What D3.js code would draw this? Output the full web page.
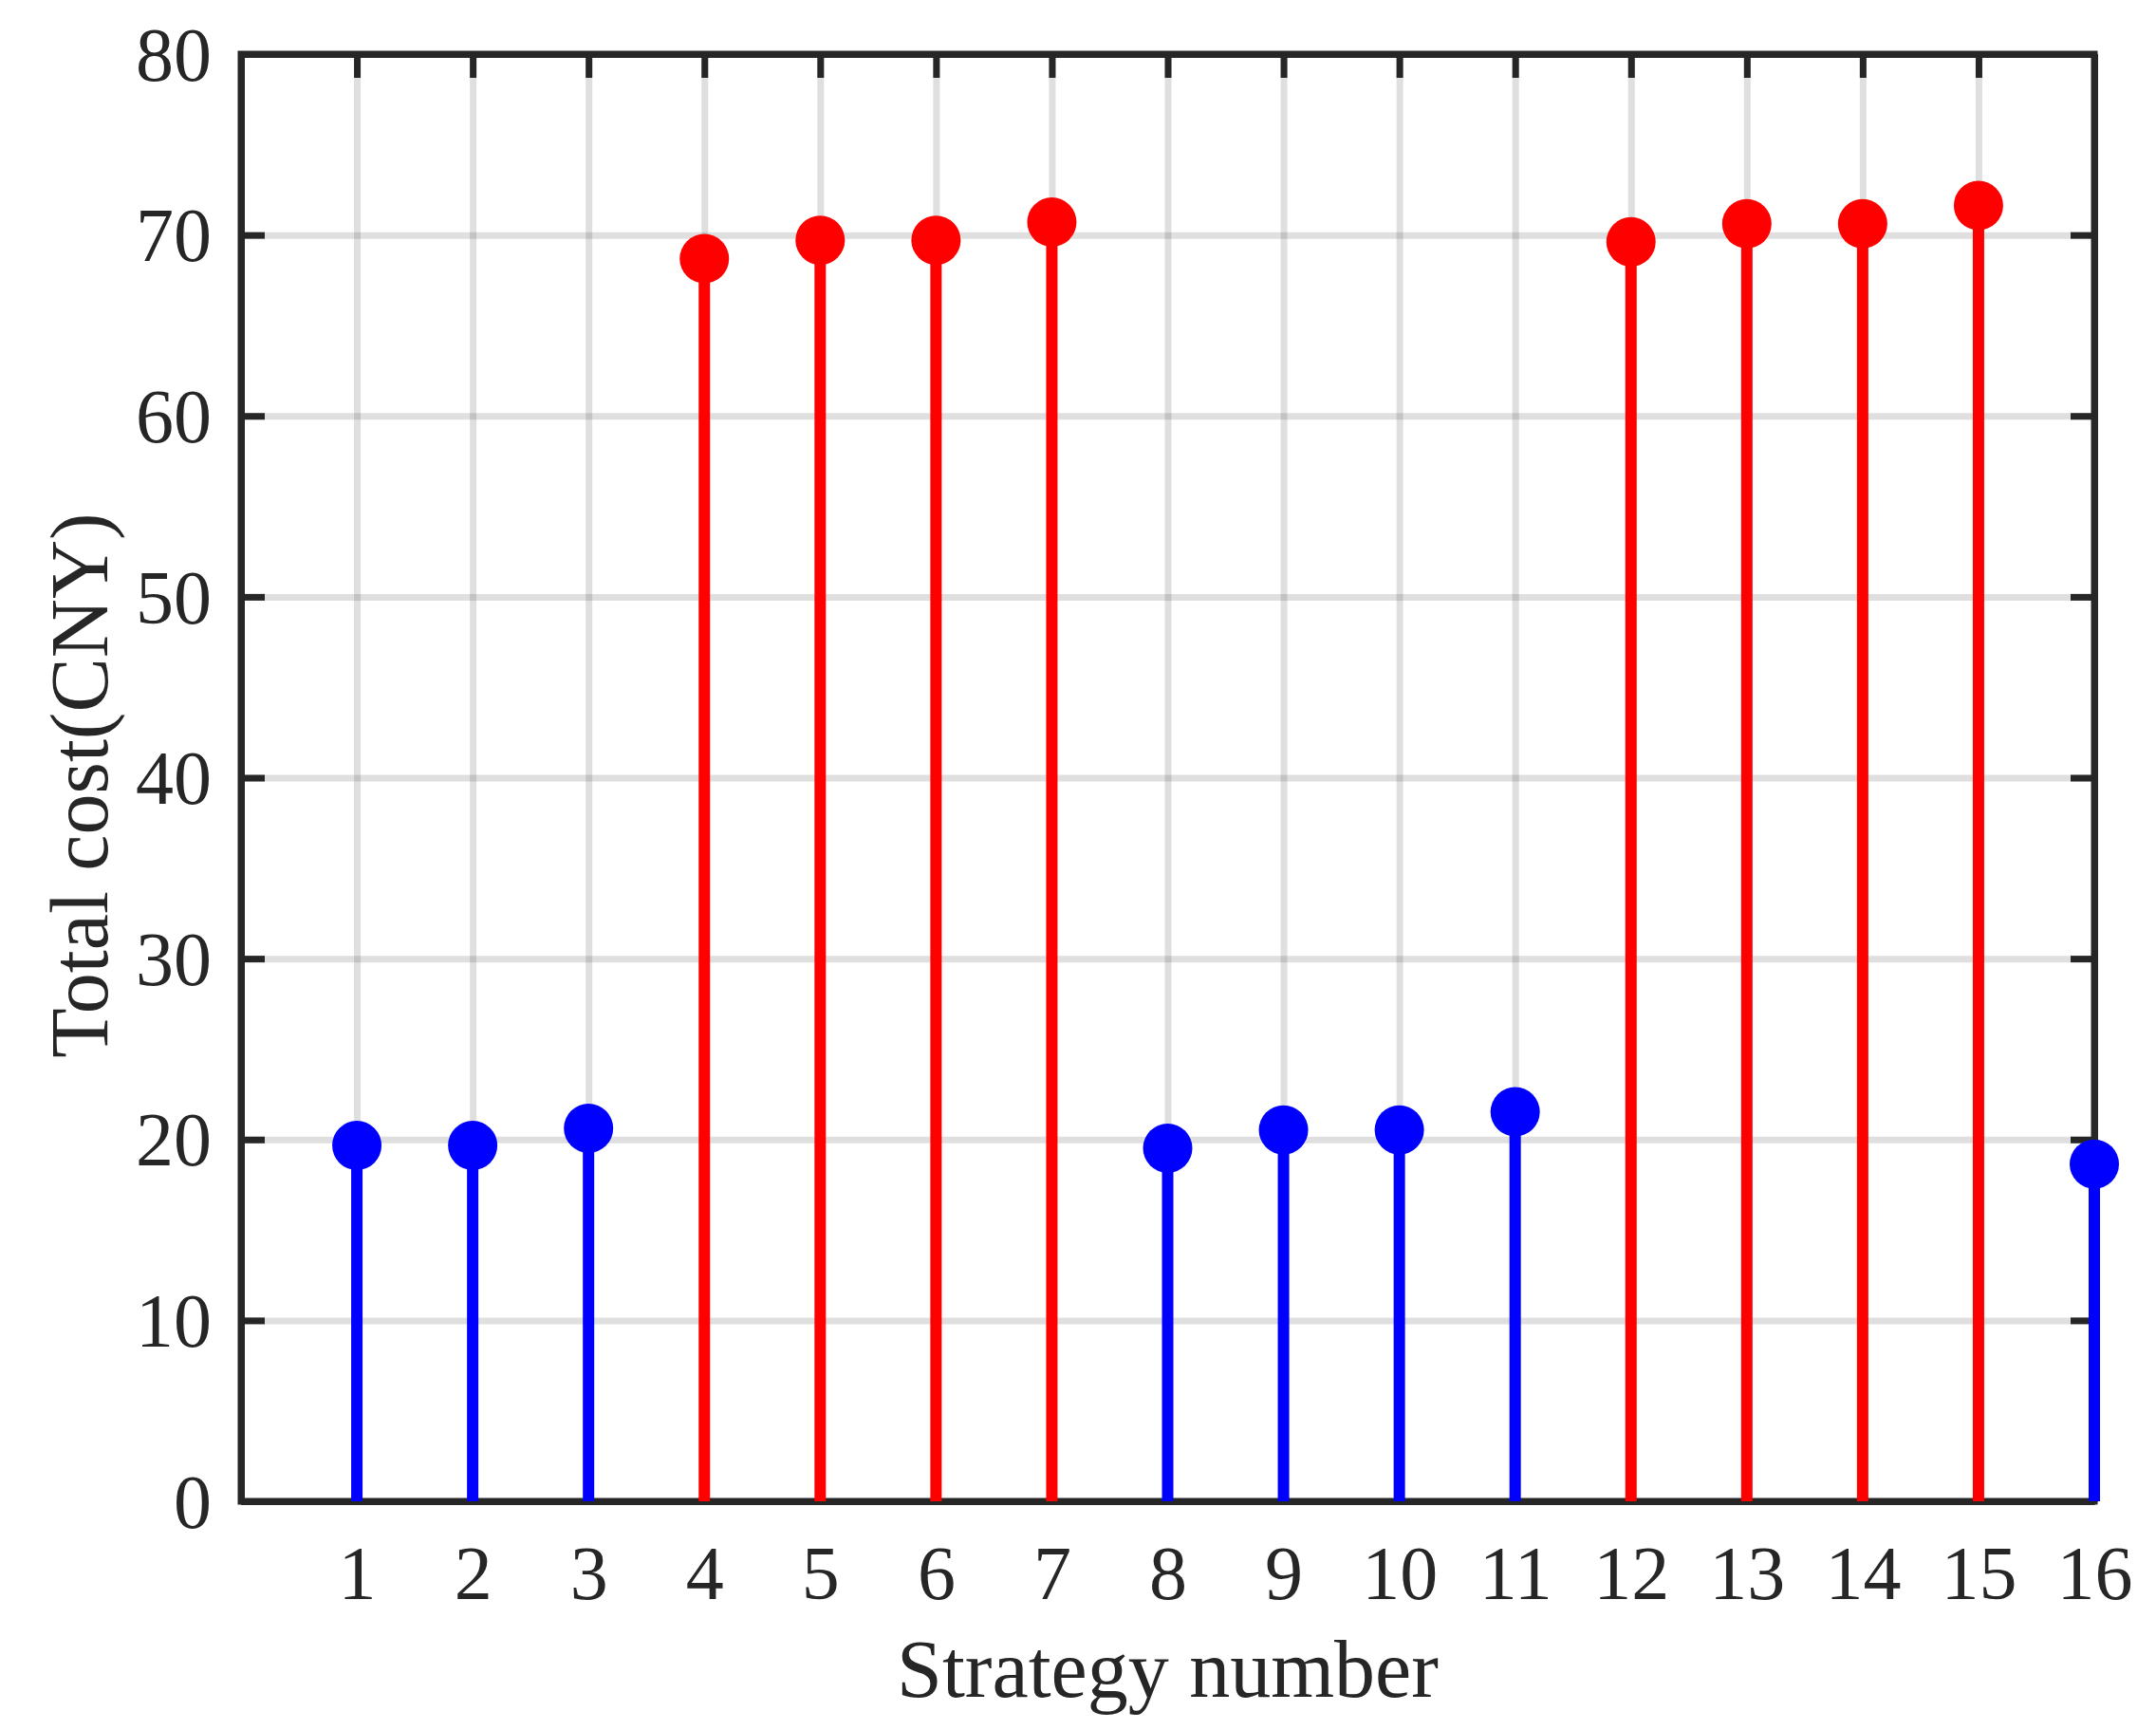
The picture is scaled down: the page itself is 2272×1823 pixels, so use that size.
<!DOCTYPE html>
<html>
<head>
<meta charset="utf-8">
<script src="https://cdn.jsdelivr.net/npm/d3@7"></script>
<style>
  html, body { margin: 0; padding: 0; background: #ffffff; }
  svg { display: block; }
  text { font-family: "Liberation Serif", "DejaVu Serif", serif; fill: #262626; }
</style>
</head>
<body>
<script>
// ---- data ----
const strategies = [1, 2, 3, 4, 5, 6, 7, 8, 9, 10, 11, 12, 13, 14, 15, 16];
const totalCost = [19.67, 19.67, 20.62, 68.69, 69.71, 69.71, 70.71, 19.52,
                   20.53, 20.53, 21.53, 69.62, 70.62, 70.62, 71.63, 18.64];
const groups = ["low", "low", "low", "high", "high", "high", "high", "low",
                "low", "low", "low", "high", "high", "high", "high", "low"];
const xTicks = [1, 2, 3, 4, 5, 6, 7, 8, 9, 10, 11, 12, 13, 14, 15, 16];
const yTicks = [0, 10, 20, 30, 40, 50, 60, 70, 80];
const xLabel = "Strategy number";
const yLabel = "Total cost(CNY)";

// ---- layout ----
const W = 2272, H = 1823;
const L = 254, R = 2207, T = 57, B = 1582;
const colors = { low: "#0000ff", high: "#ff0000" };
const axisColor = "#262626";

const svg = d3.select("body").append("svg")
  .attr("width", W).attr("height", H)
  .attr("viewBox", `0 0 ${W} ${H}`);
svg.append("rect").attr("width", W).attr("height", H).attr("fill", "#fff");

const x = d3.scaleLinear().domain([0, 16]).range([L, R]);
const y = d3.scaleLinear().domain([0, 80]).range([B, T]);

// grid
const grid = svg.append("g").attr("class", "grid");
grid.append("g").attr("transform", `translate(0,${B})`)
  .call(d3.axisBottom(x).tickValues(xTicks).tickSize(-(B - T)).tickFormat(""))
  .call(g => g.select(".domain").remove())
  .call(g => g.selectAll("line").attr("stroke", axisColor).attr("stroke-opacity", 0.15).attr("stroke-width", 7));
grid.append("g").attr("transform", `translate(${L},0)`)
  .call(d3.axisLeft(y).tickValues(yTicks.filter(v => v > 0 && v < 80)).tickSize(-(R - L)).tickFormat(""))
  .call(g => g.select(".domain").remove())
  .call(g => g.selectAll("line").attr("stroke", axisColor).attr("stroke-opacity", 0.15).attr("stroke-width", 7));

// axes (box with inward ticks on all sides)
const tickLen = 25;
function styleAxis(g) {
  g.select(".domain").attr("stroke", axisColor).attr("stroke-width", 7);
  g.selectAll(".tick line").attr("stroke", axisColor).attr("stroke-width", 7);
  g.selectAll("text").style("font-family", '"Liberation Serif", serif').attr("fill", axisColor);
}
const xb = svg.append("g").attr("transform", `translate(0,${B})`)
  .call(d3.axisBottom(x).tickValues(xTicks).tickSizeInner(-tickLen).tickSizeOuter(0).tickPadding(0).tickFormat(d3.format("d")))
  .call(styleAxis);
xb.selectAll("text").attr("font-size", 80).attr("y", 103).attr("dy", 0);

svg.append("g").attr("transform", `translate(0,${T})`)
  .call(d3.axisTop(x).tickValues(xTicks).tickSizeInner(-tickLen).tickSizeOuter(0).tickFormat(""))
  .call(styleAxis);

const yl = svg.append("g").attr("transform", `translate(${L},0)`)
  .call(d3.axisLeft(y).tickValues(yTicks).tickSizeInner(-tickLen).tickSizeOuter(0).tickPadding(0).tickFormat(d3.format("d")))
  .call(styleAxis);
yl.selectAll("text").attr("font-size", 80).attr("x", -31).attr("dy", "0.34em");

svg.append("g").attr("transform", `translate(${R},0)`)
  .call(d3.axisRight(y).tickValues(yTicks).tickSizeInner(-tickLen).tickSizeOuter(0).tickFormat(""))
  .call(styleAxis);

// square the box corners
svg.append("rect").attr("x", L).attr("y", T).attr("width", R - L).attr("height", B - T)
  .attr("fill", "none").attr("stroke", axisColor).attr("stroke-width", 7);

// stems and markers
const data = strategies.map((s, i) => ({ s, v: totalCost[i], g: groups[i] }));
const marks = svg.append("g").attr("class", "stems");
marks.selectAll("line.stem").data(data).join("line")
  .attr("class", "stem")
  .attr("x1", d => x(d.s)).attr("x2", d => x(d.s))
  .attr("y1", y(0)).attr("y2", d => y(d.v))
  .attr("stroke", d => colors[d.g]).attr("stroke-width", 12);
marks.selectAll("circle").data(data).join("circle")
  .attr("cx", d => x(d.s)).attr("cy", d => y(d.v)).attr("r", 26)
  .attr("fill", d => colors[d.g]);

// axis labels
svg.append("text").attr("x", (L + R) / 2).attr("y", 1788)
  .attr("text-anchor", "middle").attr("font-size", 86).text(xLabel);
svg.append("text").attr("transform", `translate(113,${(T + B) / 2 + 8}) rotate(-90)`)
  .attr("text-anchor", "middle").attr("font-size", 86).text(yLabel);
</script>
</body>
</html>
